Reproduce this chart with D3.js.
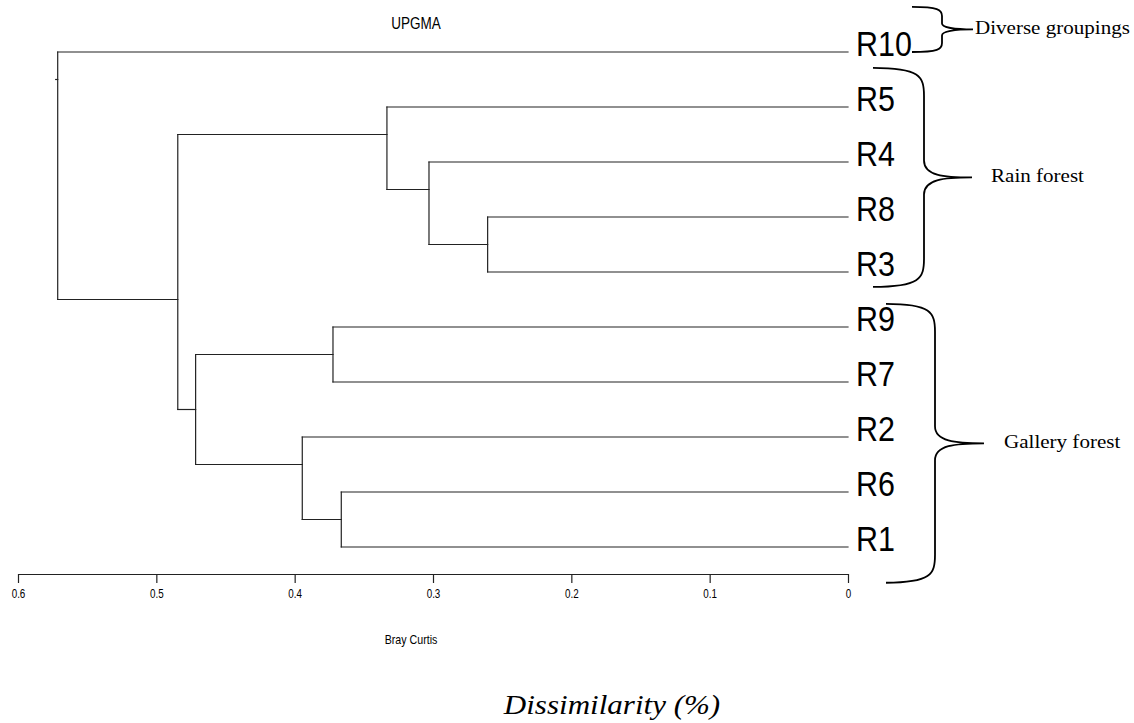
<!DOCTYPE html>
<html>
<head>
<meta charset="utf-8">
<script src="https://cdn.jsdelivr.net/npm/d3@7"></script>
<style>
  body { margin: 0; background: #fff; }
  .narrow { font-family: 'Liberation Sans', Arial, sans-serif; }
  .serif { font-family: 'Liberation Serif', 'Times New Roman', serif; }
</style>
</head>
<body>
<div id="chart"></div>
<script>
// Folhas na ordem de cima para baixo
const leaves = ['R10', 'R5', 'R4', 'R8', 'R3', 'R9', 'R7', 'R2', 'R6', 'R1'];

// Fusões UPGMA: [filho de cima, filho de baixo, nível (Bray Curtis)]
const mergeIds = ['m1', 'm2', 'm3', 'm4', 'm5', 'm6', 'm7', 'm8', 'm9'];
const mergeTop = ['R8', 'R4', 'R5', 'R6', 'R9', 'R2', 'm5', 'm3', 'R10'];
const mergeBottom = ['R3', 'm1', 'm2', 'R1', 'R7', 'm4', 'm6', 'm7', 'm8'];
const mergeHeight = [0.2605, 0.3029, 0.3333, 0.3663, 0.3723, 0.3945, 0.4716, 0.4845, 0.5713];

// Marcas do eixo
const tickValues = [0.6, 0.5, 0.4, 0.3, 0.2, 0.1, 0];
const tickLabels = ['0.6', '0.5', '0.4', '0.3', '0.2', '0.1', '0'];

// Grupos (chaves) - início e fim em unidades de folha
const groupNames = ['Diverse groupings', 'Rain forest', 'Gallery forest'];
const groupStart = [-0.82, 0.29, 4.58];
const groupEnd = [0, 4.27, 9.65];

const width = 1134, height = 723;

const svg = d3.select('#chart')
  .append('svg')
  .attr('width', width)
  .attr('height', height);

const x = d3.scaleLinear().domain([0.6, 0]).range([18, 848]);
const y = d3.scaleLinear().domain([0, leaves.length - 1]).range([52, 547]);

// montar os nós
const nodes = {};
leaves.forEach((id, i) => {
  nodes[id] = { id, h: 0, leaves: [i], y: y(i) };
});
mergeIds.forEach((id, k) => {
  const a = nodes[mergeTop[k]], b = nodes[mergeBottom[k]];
  const lastA = d3.max(a.leaves), firstB = d3.min(b.leaves);
  nodes[id] = {
    id, a, b, h: mergeHeight[k],
    leaves: a.leaves.concat(b.leaves),
    y: y((lastA + firstB) / 2)
  };
});

const segs = [];
mergeIds.forEach(id => {
  const n = nodes[id];
  // vertical
  segs.push({ x1: x(n.h), y1: n.a.y, x2: x(n.h), y2: n.b.y });
  // horizontais até os filhos
  [n.a, n.b].forEach(c => segs.push({ x1: x(n.h), y1: c.y, x2: x(c.h), y2: c.y }));
});
const root = nodes['m9'];
segs.push({ x1: x(root.h) - 2, y1: root.y, x2: x(root.h), y2: root.y });

svg.append('g')
  .selectAll('line')
  .data(segs)
  .enter()
  .append('line')
  .attr('x1', d => d.x1)
  .attr('y1', d => d.y1)
  .attr('x2', d => d.x2)
  .attr('y2', d => d.y2)
  .attr('stroke', '#222')
  .attr('stroke-width', 1.2)
  .attr('stroke-linecap', 'square');

// rótulos das folhas (fonte estreita)
svg.append('g')
  .selectAll('text')
  .data(leaves)
  .enter()
  .append('text')
  .attr('class', 'narrow')
  .attr('transform', (d, i) => `translate(856,${y(i) + 4}) scale(0.87,1)`)
  .attr('font-size', '35px')
  .attr('fill', '#000')
  .text(d => d);

// título
svg.append('text')
  .attr('class', 'narrow')
  .attr('transform', 'translate(416,29) scale(0.82,1)')
  .attr('text-anchor', 'middle')
  .attr('font-size', '16.5px')
  .text('UPGMA');

// eixo
const axis = d3.axisBottom(x)
  .tickValues(tickValues)
  .tickFormat((d, i) => tickLabels[i])
  .tickSize(9)
  .tickSizeOuter(0)
  .tickPadding(6);

const gAxis = svg.append('g')
  .attr('transform', 'translate(0,574)')
  .call(axis);
gAxis.select('.domain').attr('stroke', '#222').attr('stroke-width', 1.2);
gAxis.selectAll('.tick line').attr('stroke', '#222').attr('stroke-width', 1.2);
gAxis.selectAll('.tick text')
  .attr('class', 'narrow')
  .attr('font-family', null)
  .attr('font-size', '12px')
  .attr('transform', 'scale(0.82,1)')
  .attr('fill', '#000');
gAxis.attr('font-family', null);

svg.append('text')
  .attr('class', 'narrow')
  .attr('transform', 'translate(411,644) scale(0.82,1)')
  .attr('text-anchor', 'middle')
  .attr('font-size', '13px')
  .text('Bray Curtis');

svg.append('text')
  .attr('class', 'serif')
  .attr('transform', 'translate(612,714) scale(1.15,1)')
  .attr('text-anchor', 'middle')
  .attr('font-style', 'italic')
  .attr('font-size', '27px')
  .text('Dissimilarity (%)');

// chaves
const braceSpine = [942, 924, 935];
const braceEnd = [912, 873, 886];
const braceTip = [973, 972, 984];
const braceR = [9, 28, 28];
const braceR2 = [6, 17, 17];
const labelX = [975, 991, 1004];

function bracePath(i) {
  const top = y(groupStart[i]), bot = y(groupEnd[i]), mid = (top + bot) / 2;
  const s = braceSpine[i], e = braceEnd[i], t = braceTip[i], r = braceR[i], r2 = braceR2[i];
  const p = d3.path();
  p.moveTo(e, top);
  p.bezierCurveTo(s - 4, top, s, top + r * 0.3, s, top + r);
  p.lineTo(s, mid - r2);
  p.bezierCurveTo(s, mid - 2, s + (t - s) * 0.4, mid, t, mid);
  p.bezierCurveTo(s + (t - s) * 0.4, mid, s, mid + 2, s, mid + r2);
  p.lineTo(s, bot - r);
  p.bezierCurveTo(s, bot - r * 0.3, s - 4, bot, e, bot);
  return p.toString();
}

svg.append('g')
  .selectAll('path')
  .data(groupNames)
  .enter()
  .append('path')
  .attr('d', (d, i) => bracePath(i))
  .attr('fill', 'none')
  .attr('stroke', '#000')
  .attr('stroke-width', 1.8);

svg.append('g')
  .selectAll('text')
  .data(groupNames)
  .enter()
  .append('text')
  .attr('class', 'serif')
  .attr('transform', (d, i) => `translate(${labelX[i]},${(y(groupStart[i]) + y(groupEnd[i])) / 2 + 5}) scale(1.17,1)`)
  .attr('font-size', '18px')
  .attr('fill', '#000')
  .text(d => d);
</script>
</body>
</html>
